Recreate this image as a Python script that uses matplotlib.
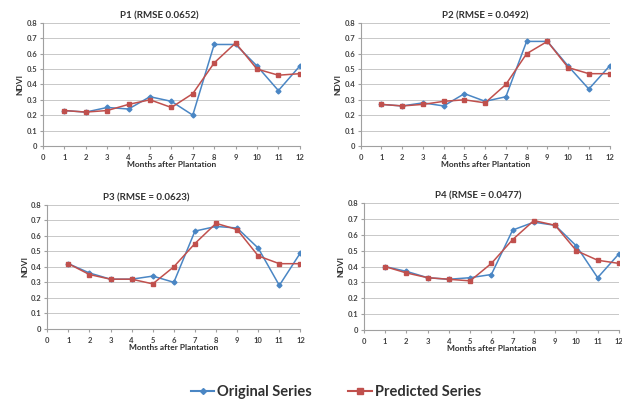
import matplotlib
matplotlib.use("Agg")
import matplotlib.pyplot as plt
from matplotlib.lines import Line2D

# ── Data ─────────────────────────────────────────────────────────────────────
months = [1, 2, 3, 4, 5, 6, 7, 8, 9, 10, 11, 12]

titles = ["P1 (RMSE 0.0652)", "P2 (RMSE = 0.0492)",
          "P3 (RMSE = 0.0623)", "P4 (RMSE = 0.0477)"]

p1_orig = [0.23, 0.22, 0.25, 0.24, 0.32, 0.29, 0.20, 0.66, 0.66, 0.52, 0.36, 0.52]
p1_pred = [0.23, 0.22, 0.23, 0.27, 0.30, 0.25, 0.34, 0.54, 0.67, 0.50, 0.46, 0.47]

p2_orig = [0.27, 0.26, 0.28, 0.26, 0.34, 0.29, 0.32, 0.68, 0.68, 0.52, 0.37, 0.52]
p2_pred = [0.27, 0.26, 0.27, 0.29, 0.30, 0.28, 0.40, 0.60, 0.68, 0.51, 0.47, 0.47]

p3_orig = [0.42, 0.36, 0.32, 0.32, 0.34, 0.30, 0.63, 0.66, 0.65, 0.52, 0.28, 0.49]
p3_pred = [0.42, 0.35, 0.32, 0.32, 0.29, 0.40, 0.55, 0.68, 0.64, 0.47, 0.42, 0.42]

p4_orig = [0.40, 0.37, 0.33, 0.32, 0.33, 0.35, 0.63, 0.68, 0.66, 0.53, 0.33, 0.48]
p4_pred = [0.40, 0.36, 0.33, 0.32, 0.31, 0.42, 0.57, 0.69, 0.66, 0.50, 0.44, 0.42]

originals = [p1_orig, p2_orig, p3_orig, p4_orig]
predicted = [p1_pred, p2_pred, p3_pred, p4_pred]

BLUE = "#4a86c4"
RED = "#c0504d"

plt.rcParams["font.family"] = ["Lato", "DejaVu Sans"]
plt.rcParams["font.weight"] = "bold"

fig = plt.figure(figsize=(6.22, 4.03), dpi=100)

# axes rectangles [left, bottom, width, height] in figure fractions
rects = [
    [0.069, 0.638, 0.413, 0.305],
    [0.580, 0.638, 0.400, 0.305],
    [0.076, 0.184, 0.407, 0.308],
    [0.585, 0.181, 0.410, 0.315],
]
# titles sit over the whole chart box, not the plot box
title_x = [0.455, 0.5, 0.39, 0.45]

for rect, title, tx, orig, pred in zip(rects, titles, title_x, originals, predicted):
    ax = fig.add_axes(rect)
    ax.plot(months, orig, color=BLUE, lw=1.1, marker="D", ms=2.5, zorder=3)
    ax.plot(months, pred, color=RED, lw=1.1, marker="s", ms=3.5, zorder=4)

    ax.set_xlim(0, 12)
    ax.set_ylim(0, 0.8)
    ax.set_xticks(range(0, 13))
    ax.set_yticks([i / 10 for i in range(9)])
    ax.set_yticklabels(["0"] + [f"{i / 10:.1f}" for i in range(1, 9)])
    ax.yaxis.grid(True, color="#c8c8c8", lw=0.7)
    ax.set_axisbelow(True)

    for side in ("top", "right"):
        ax.spines[side].set_visible(False)
    for side in ("left", "bottom"):
        ax.spines[side].set_color("#a0a0a0")
        ax.spines[side].set_linewidth(0.8)

    ax.tick_params(axis="both", labelsize=5.5, length=2, color="#a0a0a0",
                   colors="#404040", pad=2)
    ax.tick_params(axis="x", pad=4)
    for lab in ax.get_xticklabels() + ax.get_yticklabels():
        lab.set_fontweight("bold")

    ax.set_title(title, fontsize=7, fontweight="bold", color="#303030",
                 pad=3, x=tx)
    ax.set_xlabel("Months after Plantation", fontsize=6, fontweight="bold",
                  color="#303030", labelpad=0)
    ax.set_ylabel("NDVI", fontsize=6, fontweight="bold", color="#303030",
                  labelpad=2)

handles = [
    Line2D([], [], color=BLUE, lw=1.5, marker="D", ms=3),
    Line2D([], [], color=RED, lw=1.5, marker="s", ms=4),
]
fig.legend(handles, ["Original Series", "Predicted Series"],
           loc="center", bbox_to_anchor=(0.54, 0.028), ncol=2, frameon=False,
           prop={"size": 10.5, "weight": "bold"}, handlelength=1.6,
           handletextpad=0.2, columnspacing=2.5, labelcolor="#303030")

fig.savefig("out.png", dpi=100)
